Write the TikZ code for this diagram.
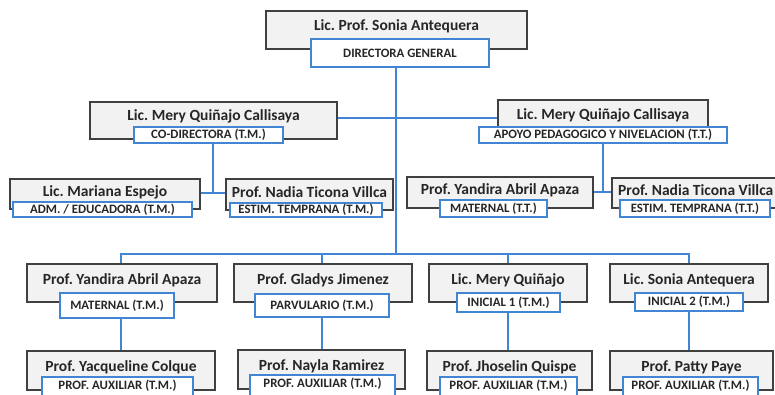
\documentclass[tikz,border=0pt]{standalone}
\usepackage{fontspec}
\setmainfont{Carlito}
\frenchspacing
\usetikzlibrary{fit,backgrounds}
\definecolor{orgblue}{RGB}{66,133,210}
\definecolor{orggray}{RGB}{242,242,242}
\definecolor{orgedge}{RGB}{64,64,64}
\tikzset{
  graybox/.style={draw=orgedge, fill=orggray, line width=1.2pt, inner sep=0pt},
  bluebox/.style={draw=orgblue, fill=white, line width=1.8pt, inner sep=0pt},
  roletext/.style={font=\bfseries\fontsize{12.8}{14}\selectfont, inner sep=0pt, text=black!85},
  nametext/.style={font=\bfseries\fontsize{15.5}{18}\selectfont, inner sep=0pt, text=black!85},
  link/.style={draw=orgblue, line width=1.8pt}
}
\begin{document}
\begin{tikzpicture}[x=1pt,y=-1pt]
\clip (0,0) rectangle (775,394);
% ---------- boxes ----------
% Director
\node[graybox, fit={(266,11) (527,49)}] (dir) {};
\node[nametext] (dir-n) at (396.5,26) {Lic. Prof. Sonia Antequera};
\node[bluebox, fit={(311,39) (489,67)}] (dir-r) {};
\node[roletext] (dir-t) at (dir-r.center) {DIRECTORA GENERAL};
% Co-director
\node[graybox, fit={(90,102) (337,139)}] (codir) {};
\node[nametext] (codir-n) at (213.5,116) {Lic. Mery Quiñajo Callisaya};
\node[bluebox, fit={(134,127) (283,143)}] (codir-r) {};
\node[roletext] (codir-t) at (codir-r.center) {CO-DIRECTORA (T.M.)};
% Apoyo
\node[graybox, fit={(498,100) (708,135)}] (apoyo) {};
\node[nametext] (apoyo-n) at (603,115) {Lic. Mery Quiñajo Callisaya};
\node[bluebox, fit={(479,127) (727,143)}] (apoyo-r) {};
\node[roletext] (apoyo-t) at (apoyo-r.center) {APOYO PEDAGOGICO Y NIVELACION (T.T.)};
% Mariana
\node[graybox, fit={(10,179) (200,209)}] (mariana) {};
\node[nametext] (mariana-n) at (105,192) {Lic. Mariana Espejo};
\node[bluebox, fit={(13,202) (192,217)}] (mariana-r) {};
\node[roletext] (mariana-t) at (mariana-r.center) {ADM. / EDUCADORA (T.M.)};
% Nadia left
\node[graybox, fit={(226,179) (393,210)}] (nadiaL) {};
\node[nametext] (nadiaL-n) at (309.5,192) {Prof. Nadia Ticona Villca};
\node[bluebox, fit={(230,203) (382,217)}] (nadiaL-r) {};
\node[roletext] (nadiaL-t) at (nadiaL-r.center) {ESTIM. TEMPRANA (T.M.)};
% Yandira right
\node[graybox, fit={(407,177) (593,208)}] (yandiraR) {};
\node[nametext] (yandiraR-n) at (500,190) {Prof. Yandira Abril Apaza};
\node[bluebox, fit={(440,200) (547,217)}] (yandiraR-r) {};
\node[roletext] (yandiraR-t) at (yandiraR-r.center) {MATERNAL (T.T.)};
% Nadia right
\node[graybox, fit={(612,178) (800,208)}] (nadiaR) {};
\node[nametext, anchor=west] (nadiaR-n) at (618,190) {Prof. Nadia Ticona Villca};
\node[bluebox, fit={(620,200) (770,217)}] (nadiaR-r) {};
\node[roletext] (nadiaR-t) at (nadiaR-r.center) {ESTIM. TEMPRANA (T.T.)};
% Row 3
\node[graybox, fit={(27,264) (217,302)}] (yandira) {};
\node[nametext] (yandira-n) at (122,280) {Prof. Yandira Abril Apaza};
\node[bluebox, fit={(60,293) (174,318)}] (yandira-r) {};
\node[roletext] (yandira-t) at (yandira-r.center) {MATERNAL (T.M.)};
\node[graybox, fit={(234,264) (412,302)}] (gladys) {};
\node[nametext] (gladys-n) at (323,280) {Prof. Gladys Jimenez};
\node[bluebox, fit={(255,294) (389,317)}] (gladys-r) {};
\node[roletext] (gladys-t) at (gladys-r.center) {PARVULARIO (T.M.)};
\node[graybox, fit={(429,264) (587,302)}] (meryq) {};
\node[nametext] (meryq-n) at (508,280) {Lic. Mery Quiñajo};
\node[bluebox, fit={(457,293) (560,312)}] (meryq-r) {};
\node[roletext] (meryq-t) at (meryq-r.center) {INICIAL 1 (T.M.)};
\node[graybox, fit={(610,264) (768,302)}] (sonia) {};
\node[nametext] (sonia-n) at (689,280) {Lic. Sonia Antequera};
\node[bluebox, fit={(635,293) (743,311)}] (sonia-r) {};
\node[roletext] (sonia-t) at (sonia-r.center) {INICIAL 2 (T.M.)};
% Row 4
\node[graybox, fit={(27,351) (215,390)}] (yacq) {};
\node[nametext] (yacq-n) at (121,367) {Prof. Yacqueline Colque};
\node[bluebox, fit={(42,377) (193,402)}] (yacq-r) {};
\node[roletext, anchor=north] (yacq-t) at (117.5,380) {PROF. AUXILIAR (T.M.)};
\node[graybox, fit={(238,350) (405,389)}] (nayla) {};
\node[nametext] (nayla-n) at (321.5,366) {Prof. Nayla Ramirez};
\node[bluebox, fit={(250,375) (395,400)}] (nayla-r) {};
\node[roletext, anchor=north] (nayla-t) at (322.5,378) {PROF. AUXILIAR (T.M.)};
\node[graybox, fit={(427,351) (592,390)}] (jhos) {};
\node[nametext] (jhos-n) at (509.5,367) {Prof. Jhoselin Quispe};
\node[bluebox, fit={(440,377) (577,402)}] (jhos-r) {};
\node[roletext, anchor=north] (jhos-t) at (508.5,380) {PROF. AUXILIAR (T.M.)};
\node[graybox, fit={(610,351) (773,390)}] (patty) {};
\node[nametext] (patty-n) at (691.5,367) {Prof. Patty Paye};
\node[bluebox, fit={(623,377) (758,402)}] (patty-r) {};
\node[roletext, anchor=north] (patty-t) at (690.5,380) {PROF. AUXILIAR (T.M.)};
% ---------- connectors (behind boxes) ----------
\coordinate (trunk) at (396,254);
\coordinate (hy) at (396,118);
\coordinate (cj) at (213,193);
\coordinate (aj) at (603,192);
\coordinate (c1) at (121,0);
\coordinate (c2) at (322,0);
\coordinate (c3) at (508,0);
\coordinate (c4) at (689,0);
\begin{scope}[on background layer]
\draw[link] (dir-r.south -| trunk) -- (trunk);
\draw[link] (codir.east |- hy) -- (apoyo.west |- hy);
\draw[link] (codir-r.south -| cj) -- (cj);
\draw[link] (mariana.east |- cj) -- (nadiaL.west |- cj);
\draw[link] (apoyo-r.south -| aj) -- (aj);
\draw[link] (yandiraR.east |- aj) -- (nadiaR.west |- aj);
\draw[link] (yandira.north -| c1) -- (c1 |- trunk) -- (c4 |- trunk) -- (sonia.north -| c4);
\draw[link] (c2 |- trunk) -- (gladys.north -| c2);
\draw[link] (c3 |- trunk) -- (meryq.north -| c3);
\draw[link] (yandira-r.south -| c1) -- (yacq.north -| c1);
\draw[link] (gladys-r.south -| c2) -- (nayla.north -| c2);
\draw[link] (meryq-r.south -| c3) -- (jhos.north -| c3);
\draw[link] (sonia-r.south -| c4) -- (patty.north -| c4);
\end{scope}
\end{tikzpicture}
\end{document}
